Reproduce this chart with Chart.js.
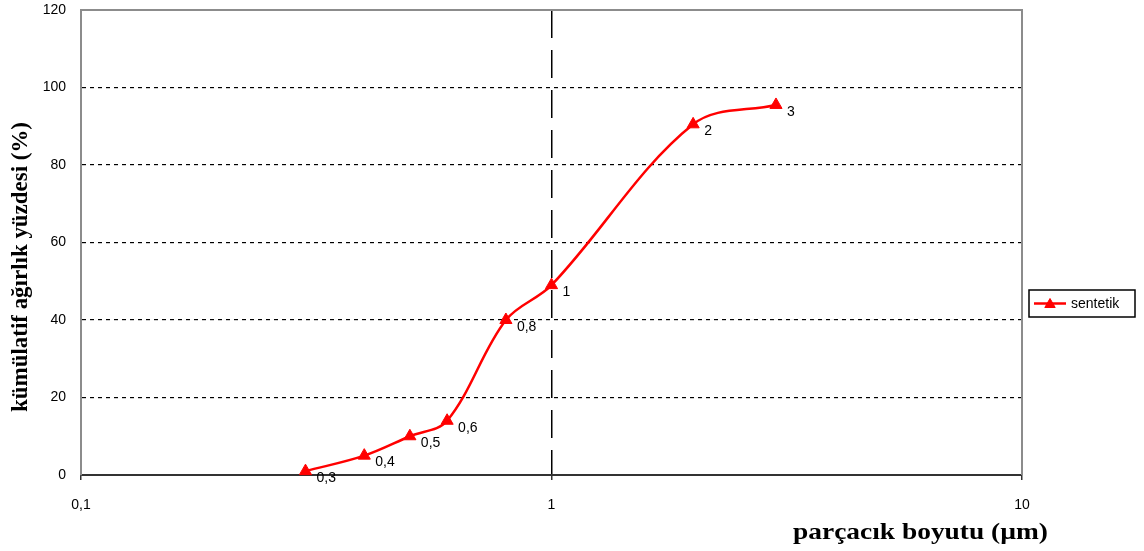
<!DOCTYPE html>
<html>
<head>
<meta charset="utf-8">
<script src="https://cdn.jsdelivr.net/npm/chart.js@4/dist/chart.umd.min.js"></script>
<style>
  html, body { margin: 0; padding: 0; background: #fff; }
  #wrap { width: 1144px; height: 551px; position: relative; }
</style>
</head>
<body>
<div id="wrap"><canvas id="c"></canvas></div>
<script>
// Particle size distribution (cumulative mass percentage vs. particle size)
const particleSizes = [0.3, 0.4, 0.5, 0.6, 0.8, 1, 2, 3];
const cumulativePercent = [1, 5, 10, 14, 40, 49, 90.5, 95.5];
const pointLabels = ['0,3', '0,4', '0,5', '0,6', '0,8', '1', '2', '3'];
const xTickValues = [0.1, 1, 10];
const xTickLabels = ['0,1', '1', '10'];
const yTickStep = 20;
const yMin = 0;
const yMax = 120;
const seriesName = 'sentetik';
const xTitle = 'parçacık boyutu (µm)';
const yTitle = 'kümülatif ağırlık yüzdesi (%)';

const RED = '#ff0000';
const TICK_FONT = { family: '"Liberation Sans", Arial, sans-serif', size: 14 };

const points = particleSizes.map((x, i) => ({ x: x, y: cumulativePercent[i] }));

// value labels to the lower right of each marker
const pointLabelPlugin = {
  id: 'pointValueLabels',
  afterDatasetsDraw(chart) {
    const c = chart.ctx;
    const meta = chart.getDatasetMeta(0);
    c.save();
    c.font = '14px "Liberation Sans", Arial, sans-serif';
    c.fillStyle = '#000';
    c.textAlign = 'left';
    c.textBaseline = 'middle';
    meta.data.forEach((pt, i) => c.fillText(pointLabels[i], pt.x + 11, pt.y + 7));
    c.restore();
  }
};

// grey top and right edges of the plot frame
const framePlugin = {
  id: 'plotFrame',
  beforeDatasetsDraw(chart) {
    const { ctx: c, chartArea: a } = chart;
    c.save();
    c.strokeStyle = '#8c8c8c';
    c.lineWidth = 2;
    c.beginPath();
    c.moveTo(a.left, a.top);
    c.lineTo(a.right, a.top);
    c.lineTo(a.right, a.bottom);
    c.stroke();
    c.restore();
  }
};

// boxed legend to the right of the plot
const boxLegendPlugin = {
  id: 'boxLegend',
  afterDraw(chart) {
    const { ctx: c, chartArea: a } = chart;
    const ds = chart.data.datasets[0];
    const x0 = a.right + 7, y0 = 290, w = 106, h = 27;
    const cy = y0 + h / 2;
    c.save();
    c.fillStyle = '#fff';
    c.fillRect(x0, y0, w, h);
    c.strokeStyle = '#000';
    c.lineWidth = 1.5;
    c.strokeRect(x0, y0, w, h);
    c.strokeStyle = ds.borderColor;
    c.lineWidth = 2.5;
    c.beginPath();
    c.moveTo(x0 + 5, cy);
    c.lineTo(x0 + 37, cy);
    c.stroke();
    c.fillStyle = ds.pointBackgroundColor;
    c.strokeStyle = ds.pointBorderColor;
    c.lineWidth = 1;
    Chart.helpers.drawPoint(c, { pointStyle: 'triangle', radius: 6, rotation: 0, borderWidth: 1 }, x0 + 21, cy + 1);
    c.fillStyle = '#000';
    c.font = '14px "Liberation Sans", Arial, sans-serif';
    c.textAlign = 'left';
    c.textBaseline = 'middle';
    c.fillText(ds.label, x0 + 42, cy + 1);
    c.restore();
  }
};

// bold serif axis titles
const axisTitlePlugin = {
  id: 'axisTitles',
  afterDraw(chart) {
    const { ctx: c, chartArea: a } = chart;
    c.save();
    c.fillStyle = '#000';
    c.font = 'bold 23px "Liberation Serif", "Times New Roman", serif';
    c.textBaseline = 'alphabetic';
    // x title, right of the axis end
    let w = c.measureText(xTitle).width;
    c.save();
    c.translate(a.right - 229, 539);
    c.scale(255 / w, 1);
    c.textAlign = 'left';
    c.fillText(xTitle, 0, 0);
    c.restore();
    // y title, rotated
    w = c.measureText(yTitle).width;
    c.save();
    c.translate(27, 267);
    c.rotate(-Math.PI / 2);
    c.scale(290 / w, 1);
    c.textAlign = 'center';
    c.fillText(yTitle, 0, 0);
    c.restore();
    c.restore();
  }
};

new Chart(document.getElementById('c'), {
  type: 'line',
  data: {
    datasets: [{
      label: seriesName,
      data: points,
      borderColor: RED,
      backgroundColor: RED,
      borderWidth: 2.5,
      tension: 0.35,
      pointStyle: 'triangle',
      pointRadius: 7,
      pointHoverRadius: 7,
      pointBackgroundColor: RED,
      pointBorderColor: RED,
      pointBorderWidth: 1,
      clip: false
    }]
  },
  options: {
    responsive: true,
    maintainAspectRatio: false,
    animation: false,
    events: [],
    layout: { padding: { left: 0, right: 122, top: 10, bottom: 0 } },
    plugins: {
      legend: { display: false },
      tooltip: { enabled: false },
      title: { display: false }
    },
    scales: {
      x: {
        type: 'logarithmic',
        min: xTickValues[0],
        max: xTickValues[xTickValues.length - 1],
        afterBuildTicks: (scale) => { scale.ticks = xTickValues.map(v => ({ value: v })); },
        afterFit: (scale) => {
          scale.height = 76;
          scale.paddingLeft = 0;
          scale.paddingRight = 0;
        },
        ticks: {
          autoSkip: false,
          maxRotation: 0,
          padding: 17,
          color: '#000',
          font: TICK_FONT,
          callback: (value) => {
            const i = xTickValues.findIndex(v => Math.abs(v - value) < 1e-9);
            return i >= 0 ? xTickLabels[i] : '';
          }
        },
        grid: {
          color: (ctx) => (ctx.tick && Math.abs(ctx.tick.value - 1) < 1e-9) ? '#000' : 'rgba(0,0,0,0)',
          lineWidth: 1.5,
          drawTicks: true,
          tickLength: 5,
          tickColor: '#333',
          tickWidth: 1.5
        },
        border: { display: true, color: '#333', width: 2, dash: [28, 12] }
      },
      y: {
        type: 'linear',
        min: yMin,
        max: yMax,
        afterFit: (scale) => {
          scale.width = 81;
          scale.paddingTop = 0;
          scale.paddingBottom = 0;
        },
        ticks: {
          stepSize: yTickStep,
          padding: 15,
          color: '#000',
          font: TICK_FONT
        },
        grid: {
          color: (ctx) => (ctx.tick && (ctx.tick.value === yMin || ctx.tick.value === yMax)) ? 'rgba(0,0,0,0)' : '#000',
          lineWidth: 1.2,
          drawTicks: false
        },
        border: { display: true, color: '#8c8c8c', width: 2, dash: [4, 4] }
      }
    }
  },
  plugins: [framePlugin, pointLabelPlugin, boxLegendPlugin, axisTitlePlugin]
});
</script>
</body>
</html>
